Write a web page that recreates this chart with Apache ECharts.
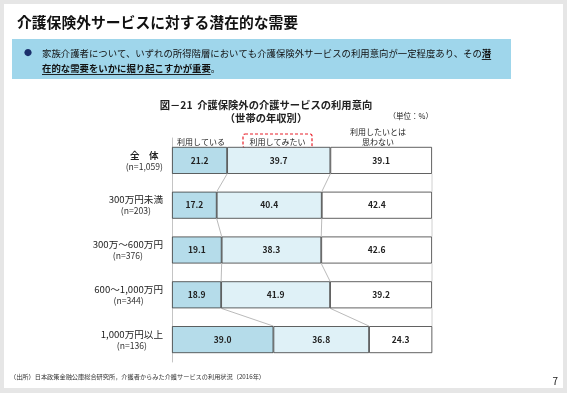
<!DOCTYPE html>
<html><head><meta charset="utf-8">
<script src="https://cdn.jsdelivr.net/npm/echarts@6/dist/echarts.min.js"></script>
<style>html,body{margin:0;padding:0;background:#e6e6e6}#c{width:567px;height:393px}</style>
</head><body><div id="c"></div>
<script>
var categories = ['全　体', '300万円未満', '300万～600万円', '600～1,000万円', '1,000万円以上'];
var sampleSizes = ['n=1,059', 'n=203', 'n=376', 'n=344', 'n=136'];
var seriesNames = ['利用している', '利用してみたい', '利用したいとは思わない'];
var using = [21.2, 17.2, 19.1, 18.9, 39.0];
var wantToUse = [39.7, 40.4, 38.3, 41.9, 36.8];
var notWant = [39.1, 42.4, 42.6, 39.2, 24.3];

var FONT = '"Noto Sans CJK JP", "Noto Sans", sans-serif';
var chart = echarts.init(document.getElementById('c'), null, {renderer: 'canvas'});

// connector data from cumulative values (third kind = right edge at 100%)
var connectors = [];
for (var i = 0; i < categories.length - 1; i++) {
  connectors.push([using[i], i, using[i + 1], i + 1, 0]);
  connectors.push([using[i] + wantToUse[i], i, using[i + 1] + wantToUse[i + 1], i + 1, 0]);
  connectors.push([100, i, 100, i + 1, 1]);
}

// measure text for underline
var mc = document.createElement('canvas').getContext('2d');
function tw(t, w, s) { mc.font = (w || 'normal') + ' ' + s + 'px ' + FONT; return mc.measureText(t).width; }
var BODY = 9.4;
var l1n = '家族介護者について、いずれの所得階層においても介護保険外サービスの利用意向が一定程度あり、その';
var l1b = '潜';
var l2b = '在的な需要をいかに掘り起こすかが重要';
var l1nW = tw(l1n, 'normal', BODY), l1bW = tw(l1b, 'bold', BODY), l2bW = tw(l2b, 'bold', BODY);
var TX = 42;

var labelStyle = {show: true, position: 'inside', fontSize: 8.5, fontWeight: 'bold', color: '#222', fontFamily: FONT,
  formatter: function (p) { return p.value.toFixed(1); }};
function barSeries(name, data, color) {
  return {type: 'bar', name: name, stack: 'a', data: data, barWidth: 27,
    itemStyle: {color: color, borderColor: '#3a3a3a', borderWidth: 0.8},
    label: labelStyle, z: 3};
}

var option = {
  backgroundColor: '#e6e6e6',
  animation: false,
  textStyle: {fontFamily: FONT},
  grid: {left: 172, top: 138, width: 260, height: 224},
  xAxis: {type: 'value', min: 0, max: 100, show: false},
  yAxis: {
    type: 'category', data: categories, inverse: true,
    axisLine: {show: true, lineStyle: {color: '#c4c4c4', width: 1}},
    axisTick: {show: false},
    axisLabel: {
      margin: 9, align: 'right', fontFamily: FONT,
      formatter: function (v, idx) {
        return (idx === 0 ? '{h|' + v + '}' : '{a|' + v + '}') + '\n{b|(' + sampleSizes[idx] + ')}';
      },
      rich: {
        h: {fontSize: 9.5, fontWeight: 'bold', color: '#222', lineHeight: 12, align: 'center', fontFamily: FONT},
        a: {fontSize: 9.6, color: '#222', lineHeight: 12, align: 'center', fontFamily: FONT},
        b: {fontSize: 8.6, color: '#333', lineHeight: 11, align: 'center', fontFamily: FONT}
      }
    }
  },
  series: [
    barSeries(seriesNames[0], using, '#b5dcea'),
    barSeries(seriesNames[1], wantToUse, '#dff1f7'),
    barSeries(seriesNames[2], notWant, '#ffffff'),
    {
      type: 'custom', data: connectors, encode: {x: [0, 2], y: [1, 3]}, z: 2,
      renderItem: function (params, api) {
        var p1 = api.coord([api.value(0), api.value(1)]);
        var p2 = api.coord([api.value(2), api.value(3)]);
        var edge = api.value(4) === 1;
        return {type: 'line', shape: {x1: p1[0], y1: p1[1] + 13.5, x2: p2[0], y2: p2[1] - 13.5},
          style: {stroke: edge ? '#d0d0d0' : '#a8a8a8', lineWidth: edge ? 1 : 0.8}};
      }
    }
  ],
  graphic: [
    {type: 'rect', z: -10, shape: {x: 4, y: 4, width: 559, height: 384}, style: {fill: '#ffffff'}},
    {type: 'text', x: 17, y: 22, style: {text: '介護保険外サービスに対する潜在的な需要', font: 'bold 14.8px ' + FONT, fill: '#111', verticalAlign: 'middle'}},
    {type: 'rect', shape: {x: 12, y: 39, width: 499, height: 40}, style: {fill: '#9fd6eb'}},
    {type: 'text', x: 28, y: 53, style: {text: '●', font: '8px ' + FONT, fill: '#1b2f6b', align: 'center', verticalAlign: 'middle'}},
    {type: 'text', x: TX, y: 53, style: {text: l1n, font: BODY + 'px ' + FONT, fill: '#111', verticalAlign: 'middle'}},
    {type: 'text', x: TX + l1nW, y: 53, style: {text: l1b, font: 'bold ' + BODY + 'px ' + FONT, fill: '#111', verticalAlign: 'middle'}},
    {type: 'text', x: TX, y: 68, style: {text: l2b, font: 'bold ' + BODY + 'px ' + FONT, fill: '#111', verticalAlign: 'middle'}},
    {type: 'text', x: TX + l2bW, y: 68, style: {text: '。', font: BODY + 'px ' + FONT, fill: '#111', verticalAlign: 'middle'}},
    {type: 'line', shape: {x1: TX + l1nW, y1: 59.5, x2: TX + l1nW + l1bW, y2: 59.5}, style: {stroke: '#111', lineWidth: 0.9}},
    {type: 'line', shape: {x1: TX, y1: 74.5, x2: TX + l2bW, y2: 74.5}, style: {stroke: '#111', lineWidth: 0.9}},
    {type: 'text', x: 266, y: 105, style: {text: '図－21  介護保険外の介護サービスの利用意向', font: 'bold 10.3px ' + FONT, fill: '#222', align: 'center', verticalAlign: 'middle'}},
    {type: 'text', x: 266, y: 118, style: {text: '（世帯の年収別）', font: 'bold 10.3px ' + FONT, fill: '#222', align: 'center', verticalAlign: 'middle'}},
    {type: 'text', x: 433, y: 116, style: {text: '（単位：%）', font: '7.5px ' + FONT, fill: '#222', align: 'right', verticalAlign: 'middle'}},
    {type: 'text', x: 201, y: 142, style: {text: '利用している', font: '8px ' + FONT, fill: '#222', align: 'center', verticalAlign: 'middle'}},
    {type: 'rect', shape: {x: 243, y: 134, width: 69, height: 14, r: 2}, style: {fill: 'none', stroke: '#e8202a', lineWidth: 1.2, lineDash: [3, 2]}},
    {type: 'text', x: 277.5, y: 141.5, style: {text: '利用してみたい', font: '8px ' + FONT, fill: '#222', align: 'center', verticalAlign: 'middle'}},
    {type: 'text', x: 378, y: 132, style: {text: '利用したいとは', font: '8px ' + FONT, fill: '#222', align: 'center', verticalAlign: 'middle'}},
    {type: 'text', x: 378, y: 142, style: {text: '思わない', font: '8px ' + FONT, fill: '#222', align: 'center', verticalAlign: 'middle'}},
    {type: 'text', x: 10, y: 377, style: {text: '（出所）日本政策金融公庫総合研究所，介護者からみた介護サービスの利用状況（2016年）', font: '6.2px ' + FONT, fill: '#333', verticalAlign: 'middle'}},
    {type: 'text', x: 558, y: 381, style: {text: '7', font: '10px ' + FONT, fill: '#222', align: 'right', verticalAlign: 'middle'}}
  ]
};
chart.setOption(option);
</script></body></html>
